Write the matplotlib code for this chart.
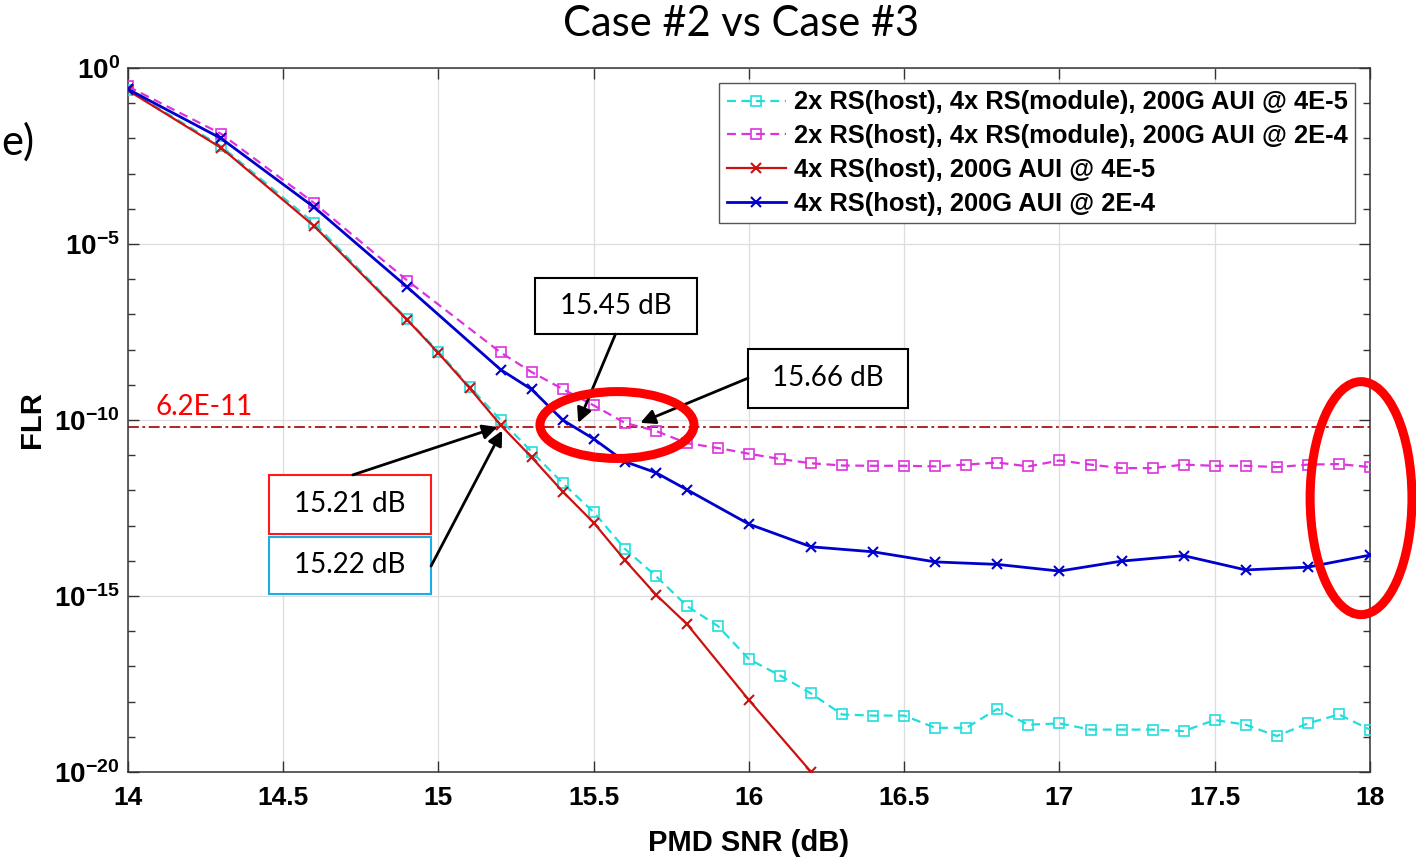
import matplotlib
matplotlib.use("Agg")
import matplotlib.pyplot as plt
import numpy as np
from matplotlib.patches import Rectangle, Ellipse
from matplotlib.ticker import FuncFormatter

plt.rcParams["font.family"] = ["Liberation Sans", "DejaVu Sans"]
plt.rcParams["mathtext.fontset"] = "custom"
plt.rcParams["mathtext.bf"] = "Liberation Sans:bold"
plt.rcParams["mathtext.rm"] = "Liberation Sans"

# PMD SNR (dB) grids for each curve
snr_cyan = [14.0, 14.3, 14.6, 14.9, 15.0, 15.1, 15.2, 15.3, 15.4, 15.5, 15.6, 15.7,
            15.8, 15.9, 16.0, 16.1, 16.2, 16.3, 16.4, 16.5, 16.6, 16.7, 16.8, 16.9,
            17.0, 17.1, 17.2, 17.3, 17.4, 17.5, 17.6, 17.7, 17.8, 17.9, 18.0]
snr_magenta = [14.0, 14.3, 14.6, 14.9, 15.2, 15.3, 15.4, 15.5, 15.6, 15.7, 15.8,
               15.9, 16.0, 16.1, 16.2, 16.3, 16.4, 16.5, 16.6, 16.7, 16.8, 16.9,
               17.0, 17.1, 17.2, 17.3, 17.4, 17.5, 17.6, 17.7, 17.8, 17.9, 18.0]
snr_red = [14.0, 14.3, 14.6, 14.9, 15.0, 15.1, 15.2, 15.3, 15.4, 15.5, 15.6, 15.7,
           15.8, 16.0, 16.2]
snr_blue = [14.0, 14.3, 14.6, 14.9, 15.2, 15.3, 15.4, 15.5, 15.6, 15.7, 15.8, 16.0,
            16.2, 16.4, 16.6, 16.8, 17.0, 17.2, 17.4, 17.6, 17.8, 18.0]

# FLR values
flr_cyan = [2.4e-1, 6.0e-3, 3.9e-5, 7.2e-8, 8.7e-9, 8.9e-10, 1.0e-10, 1.26e-11,
            1.6e-12, 2.4e-13, 2.2e-14, 3.7e-15, 5.2e-16, 1.4e-16, 1.6e-17, 5.5e-18,
            1.7e-18, 4.3e-19, 4.0e-19, 4.0e-19, 1.8e-19, 1.8e-19, 6.2e-19, 2.2e-19,
            2.4e-19, 1.6e-19, 1.6e-19, 1.6e-19, 1.45e-19, 3.0e-19, 2.2e-19, 1.05e-19,
            2.4e-19, 4.3e-19, 1.6e-19]
flr_magenta = [3.0e-1, 1.35e-2, 1.45e-4, 9.1e-7, 8.3e-9, 2.3e-9, 7.6e-10, 2.6e-10,
               8.3e-11, 4.9e-11, 2.2e-11, 1.6e-11, 1.1e-11, 7.8e-12, 5.9e-12, 5.1e-12,
               5.0e-12, 5.0e-12, 4.8e-12, 5.4e-12, 6.2e-12, 4.8e-12, 7.1e-12, 5.4e-12,
               4.3e-12, 4.3e-12, 5.4e-12, 5.0e-12, 5.0e-12, 4.6e-12, 5.4e-12, 5.6e-12,
               4.6e-12]
flr_red = [2.3e-1, 5.4e-3, 3.2e-5, 6.9e-8, 7.9e-9, 8.1e-10, 7.2e-11, 8.7e-12,
           9.3e-13, 1.2e-13, 1.05e-14, 1.1e-15, 1.6e-16, 1.1e-18, 1.0e-20]
flr_blue = [2.5e-1, 1.0e-2, 1.1e-4, 5.9e-7, 2.7e-9, 7.4e-10, 1.0e-10, 2.9e-11,
            6.6e-12, 3.2e-12, 1.05e-12, 1.1e-13, 2.5e-14, 1.8e-14, 9.3e-15, 7.9e-15,
            5.1e-15, 9.8e-15, 1.4e-14, 5.5e-15, 6.6e-15, 1.45e-14]

labels = ["2x RS(host), 4x RS(module), 200G AUI @ 4E-5",
          "2x RS(host), 4x RS(module), 200G AUI @ 2E-4",
          "4x RS(host), 200G AUI @ 4E-5",
          "4x RS(host), 200G AUI @ 2E-4"]
threshold = 6.2e-11

fig = plt.figure(figsize=(14.16, 8.59), dpi=100)
ax = fig.add_axes([0.0904, 0.1013, 0.8771, 0.8195])

ax.plot(snr_cyan, flr_cyan, color="#22dddd", ls=(0, (4, 2.5)), lw=1.6, marker="s",
        ms=6.5, mfc="none", mew=1.2, label=labels[0], zorder=3)
ax.plot(snr_magenta, flr_magenta, color="#dd33dd", ls=(0, (4, 2.5)), lw=1.6, marker="s",
        ms=6.5, mfc="none", mew=1.2, label=labels[1], zorder=3)
ax.plot(snr_red, flr_red, color="#cc1111", lw=1.6, marker="x", ms=7, mew=1.5,
        label=labels[2], zorder=4)
ax.plot(snr_blue, flr_blue, color="#0000cc", lw=2.0, marker="x", ms=7, mew=1.5,
        label=labels[3], zorder=4)

ax.axhline(threshold, color="#b01010", lw=1.3, ls=(0, (6, 2, 1.5, 2)), zorder=2)
ax.text(14.09, threshold * 1.6, "6.2E-11", color="red", fontsize=20,
        family=["Lato", "DejaVu Sans"], ha="left", va="bottom")

ax.set_yscale("log")
ax.set_xlim(14, 18)
ax.set_ylim(1e-20, 1e0)
ax.set_xticks([14, 14.5, 15, 15.5, 16, 16.5, 17, 17.5, 18])
ax.set_xticklabels(["14", "14.5", "15", "15.5", "16", "16.5", "17", "17.5", "18"])
ax.set_yticks([1e0, 1e-5, 1e-10, 1e-15, 1e-20])
ax.set_yticks([10.0 ** -k for k in range(1, 20) if k % 5], minor=True)
ax.yaxis.set_major_formatter(FuncFormatter(
    lambda v, p: r"$\mathbf{10^{%d}}$" % int(round(np.log10(v)))))
ax.yaxis.set_minor_formatter(FuncFormatter(lambda v, p: ""))
ax.tick_params(which="both", direction="in", top=True, right=True, labelsize=19,
               color="#333333")
ax.tick_params(axis="y", labelsize=20)
ax.tick_params(which="major", length=8, width=1)
ax.tick_params(which="minor", length=5, width=1)
ax.tick_params(axis="x", pad=10)
ax.tick_params(axis="y", pad=6)
for t in ax.get_xticklabels():
    t.set_fontweight("bold")
ax.grid(True, which="major", color="#dddddd", lw=0.9)
for s in ax.spines.values():
    s.set_color("#333333")
    s.set_linewidth(1.1)

ax.set_xlabel("PMD SNR (dB)", fontsize=21, fontweight="bold", labelpad=14)
ax.set_ylabel("FLR", fontsize=21, fontweight="bold")
ax.yaxis.set_label_coords(-0.066, 0.5)

leg = ax.legend(loc="upper right", bbox_to_anchor=(0.988, 0.979), borderaxespad=0,
                prop={"weight": "bold", "size": 18.4}, numpoints=1,
                handlelength=2.3, handletextpad=0.3, labelspacing=0.38,
                borderpad=0.3, fancybox=False, framealpha=1, edgecolor="#555555")
leg.get_frame().set_linewidth(1.0)

fig.text(0.523, 0.972, "Case #2 vs Case #3", fontsize=30, ha="center", va="center",
         family=["Lato", "DejaVu Sans"])
fig.text(0.001, 0.835, "e)", fontsize=30, ha="left", va="center",
         family=["Lato", "DejaVu Sans"])


def label_box(x0, x1, e0, e1, text, edge):
    y0, y1 = 10.0 ** e0, 10.0 ** e1
    ax.add_patch(Rectangle((x0, y0), x1 - x0, y1 - y0, facecolor="white",
                           edgecolor=edge, lw=1.5, zorder=6))
    ax.text((x0 + x1) / 2, np.sqrt(y0 * y1), text, fontsize=20, ha="center",
            va="center", family=["Lato", "DejaVu Sans"], zorder=7)


def arrow(start, tip):
    ax.annotate("", xy=tip, xytext=start, zorder=8,
                arrowprops=dict(arrowstyle="-|>", color="k", lw=2,
                                mutation_scale=22, shrinkA=0, shrinkB=0))


label_box(15.311, 15.833, -7.56, -5.97, "15.45 dB", "black")
label_box(15.997, 16.512, -9.66, -7.98, "15.66 dB", "black")
label_box(14.454, 14.976, -13.24, -11.56, "15.21 dB", "#ff1a1a")
label_box(14.454, 14.976, -14.94, -13.32, "15.22 dB", "#19aee8")

arrow((15.57, 10 ** -7.56), (15.45, 10 ** -10.08))
arrow((15.997, 10 ** -8.81), (15.65, 10 ** -10.08))
arrow((14.724, 10 ** -11.56), (15.19, 10 ** -10.2))
arrow((14.976, 10 ** -14.15), (15.205, 10 ** -10.3))

ax.add_patch(Ellipse((0.3937, 0.4929), 0.124, 0.095, transform=ax.transAxes,
                     fill=False, edgecolor="red", lw=6.5, zorder=9, clip_on=False))
ax.add_patch(Ellipse((0.9928, 0.389), 0.082, 0.331, transform=ax.transAxes,
                     fill=False, edgecolor="red", lw=6.5, zorder=9, clip_on=False))

fig.savefig("out.png", dpi=100)
